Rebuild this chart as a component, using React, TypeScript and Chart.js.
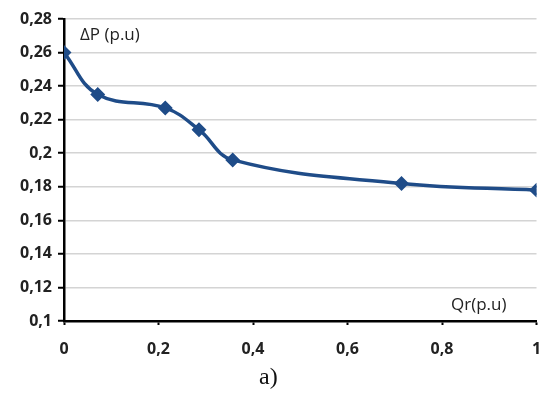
import React, { useEffect, useRef } from "react";
import { Chart, registerables } from "chart.js";

Chart.register(...registerables);

const qr = [0, 0.0714, 0.2143, 0.2857, 0.3571, 0.7143, 1];
const deltaP = [0.26, 0.235, 0.227, 0.214, 0.196, 0.182, 0.178];
const xTicks = [0, 0.2, 0.4, 0.6, 0.8, 1];
const yLabel = "ΔP (p.u)";
const xLabel = "Qr(p.u)";
const caption = "a)";

const fmt = (v: number) => String(Math.round(v * 100) / 100).replace(".", ",");

export default function App() {
  const ref = useRef<HTMLCanvasElement | null>(null);
  useEffect(() => {
    if (!ref.current) return;
    const labelsPlugin = {
      id: "axisTitles",
      afterDraw(chart: any) {
        const { ctx, chartArea } = chart;
        ctx.save();
        ctx.fillStyle = "#222";
        ctx.font = "17px 'Open Sans'";
        ctx.textBaseline = "middle";
        ctx.textAlign = "left";
        ctx.fillText(yLabel, chartArea.left + 16, chartArea.top + 16);
        ctx.textAlign = "right";
        ctx.fillText(xLabel, chartArea.right - 30, chartArea.bottom - 16);
        ctx.restore();
      },
    };
    const chart = new Chart(ref.current, {
      type: "line",
      data: {
        datasets: [
          {
            data: qr.map((x, i) => ({ x, y: deltaP[i] })),
            borderColor: "#1F4C88",
            backgroundColor: "#1F4C88",
            borderWidth: 3.5,
            pointStyle: "rectRot",
            pointRadius: 5,
            tension: 0.4,
          },
        ],
      },
      options: {
        responsive: false,
        animation: false,
        layout: { padding: { left: 8, right: 5, top: 19, bottom: 0 } },
        plugins: { legend: { display: false }, tooltip: { enabled: false } },
        scales: {
          x: {
            type: "linear",
            min: 0,
            max: 1,
            afterBuildTicks: (s: any) => {
              s.ticks = xTicks.map((v) => ({ value: v }));
            },
            afterFit: (s: any) => {
              s.height = 44;
              s.paddingLeft = 0;
              s.paddingRight = 0;
            },
            grid: {
              drawOnChartArea: false,
              tickColor: "#000",
              tickLength: 4,
              tickWidth: 2,
            },
            border: { color: "#000", width: 2.5 },
            ticks: {
              callback: (v: any) => fmt(Number(v)),
              color: "#222",
              font: { family: "'Open Sans'", size: 16, weight: "bold" },
              padding: 15,
              maxRotation: 0,
            },
          },
          y: {
            min: 0.1,
            max: 0.28,
            afterFit: (s: any) => {
              s.width = 56;
              s.paddingTop = 0;
              s.paddingBottom = 0;
            },
            grid: {
              color: "#d4d4d4",
              lineWidth: 1.5,
              tickColor: "#000",
              tickLength: 6,
              tickWidth: 2,
            },
            border: { color: "#000", width: 2.5 },
            ticks: {
              stepSize: 0.02,
              callback: (v: any) => fmt(Number(v)),
              color: "#222",
              font: { family: "'Open Sans'", size: 16, weight: "bold" },
              padding: 6,
            },
          },
        },
      },
      plugins: [labelsPlugin],
    } as any);
    return () => chart.destroy();
  }, []);
  return (
    <div style={{ position: "fixed", left: 0, top: 0, width: 545, height: 402, background: "#fff" }}>
      <canvas ref={ref} width={545} height={365} style={{ display: "block" }} />
      <div
        style={{
          position: "absolute",
          left: 259,
          top: 363,
          fontFamily: "'Liberation Serif', serif",
          fontSize: 24,
          color: "#111",
        }}
      >
        {caption}
      </div>
    </div>
  );
}
